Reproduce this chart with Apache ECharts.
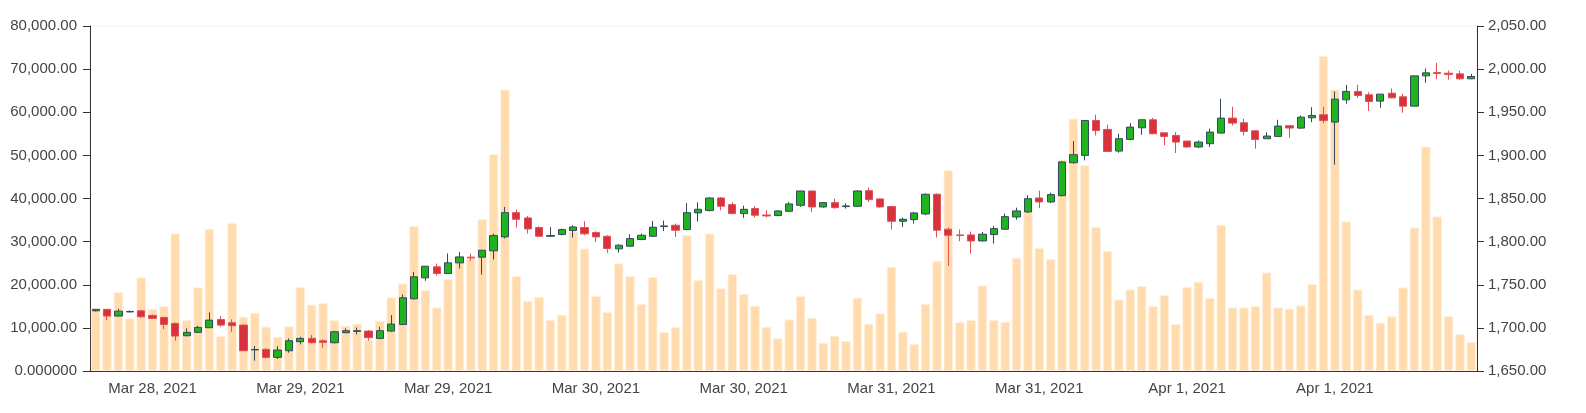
<!DOCTYPE html>
<html>
<head>
<meta charset="utf-8">
<script src="https://cdn.jsdelivr.net/npm/echarts@6/dist/echarts.min.js"></script>
<style>
  html, body { margin: 0; padding: 0; background: #fff; }
  #chart { width: 1586px; height: 413px; }
</style>
</head>
<body>
<div id="chart"></div>
<script>
// hourly candles, one label every 13 bars
const tickLabels = ['Mar 28, 2021', 'Mar 29, 2021', 'Mar 29, 2021', 'Mar 30, 2021', 'Mar 30, 2021',
  'Mar 31, 2021', 'Mar 31, 2021', 'Apr 1, 2021', 'Apr 1, 2021'];

const volumes = [
  14530, 14500, 18300, 12200, 21700, 14400, 15100, 31900, 11800, 19400,
  32900, 8100, 34300, 12600, 13500, 10300, 7950, 10400, 19500, 15400,
  15800, 11800, 10500, 11000, 7200, 11650, 17100, 20300, 33600, 18770,
  14750, 21300, 25870, 26340, 35220, 50280, 65260, 22010, 16220, 17220,
  11820, 13050, 32360, 28420, 17380, 13670, 24950, 22010, 15520, 21780,
  9040, 10190, 31510, 21080, 31900, 19150, 22470, 17840, 15140, 10270,
  7570, 11970, 17380, 12360, 6560, 8190, 6950, 16990, 10970, 13360,
  24170, 9110, 6260, 15520, 25560, 46570, 11350, 11820, 19850, 11820,
  11430, 26260, 36920, 28500, 25950, 49040, 58540, 47730, 33360, 27800,
  16600, 18920, 19690, 15060, 17610, 10890, 19540, 20700, 16910, 33830,
  14750, 14750, 15060, 22860, 14750, 14440, 15210, 20160, 73060, 65260,
  34680, 18920, 12970, 11200, 12670, 19380, 33290, 52050, 35830, 12740,
  8570, 6720
];

const opens = [
  1719.8, 1721.4, 1713.7, 1718.5, 1719.8, 1714.4, 1712.1, 1705.2, 1690.9, 1694.8,
  1700.2, 1709.8, 1705.9, 1703.2, 1674.5, 1675.1, 1665.8, 1673.5, 1684.0, 1687.8,
  1685.1, 1682.8, 1694.4, 1695.9, 1696.3, 1687.8, 1696.3, 1704.0, 1733.7, 1758.0,
  1770.8, 1763.0, 1775.4, 1782.0, 1782.0, 1789.3, 1805.5, 1833.6, 1827.5, 1816.3,
  1806.2, 1808.2, 1812.8, 1816.3, 1810.5, 1806.2, 1791.6, 1794.7, 1802.4, 1806.2,
  1817.4, 1819.0, 1814.0, 1833.3, 1836.0, 1850.6, 1842.9, 1832.5, 1838.3, 1830.9,
  1830.2, 1835.2, 1842.1, 1858.7, 1840.2, 1845.2, 1840.6, 1841.0, 1859.1, 1849.5,
  1840.6, 1823.6, 1825.5, 1832.1, 1854.9, 1814.4, 1807.8, 1807.8, 1800.8, 1808.2,
  1814.4, 1828.6, 1834.4, 1850.6, 1846.0, 1853.3, 1891.5, 1900.0, 1940.5, 1930.1,
  1905.0, 1918.5, 1932.0, 1941.3, 1926.2, 1923.1, 1916.6, 1909.7, 1913.5, 1925.8,
  1943.2, 1937.8, 1928.5, 1919.3, 1922.0, 1934.4, 1931.6, 1943.6, 1947.1, 1938.6,
  1964.4, 1974.1, 1970.2, 1962.9, 1972.1, 1967.9, 1957.1, 1992.2, 1996.0, 1995.3,
  1994.5, 1988.8
];

const closes = [
  1721.4, 1713.7, 1719.4, 1719.0, 1712.9, 1711.0, 1704.0, 1690.5, 1694.8, 1700.5,
  1709.0, 1703.2, 1702.5, 1673.5, 1674.9, 1665.8, 1674.3, 1685.1, 1687.8, 1682.8,
  1683.2, 1695.5, 1696.7, 1696.7, 1688.6, 1696.7, 1704.4, 1734.9, 1759.2, 1771.5,
  1763.0, 1775.4, 1782.3, 1781.2, 1790.0, 1807.0, 1833.6, 1825.9, 1814.7, 1806.2,
  1807.0, 1814.0, 1817.0, 1809.0, 1805.5, 1792.0, 1795.8, 1803.5, 1807.4, 1816.7,
  1818.2, 1813.2, 1833.6, 1837.5, 1850.6, 1841.0, 1832.5, 1837.5, 1830.6, 1829.8,
  1835.6, 1843.7, 1858.7, 1840.2, 1845.2, 1839.4, 1841.4, 1858.7, 1848.7, 1840.2,
  1823.6, 1825.9, 1833.3, 1854.9, 1813.2, 1807.4, 1807.0, 1800.8, 1808.6, 1815.1,
  1829.0, 1835.6, 1849.8, 1846.0, 1854.5, 1892.3, 1900.8, 1940.5, 1928.9, 1904.6,
  1919.3, 1932.8, 1941.3, 1925.1, 1922.0, 1915.4, 1909.7, 1915.4, 1927.0, 1943.2,
  1937.4, 1927.8, 1918.5, 1922.4, 1934.0, 1931.7, 1944.3, 1946.3, 1940.5, 1965.2,
  1974.1, 1969.5, 1962.5, 1971.0, 1966.7, 1957.1, 1992.2, 1995.7, 1994.9, 1993.7,
  1988.8, 1991.5
];

const lows = [
  1719.0, 1709.0, 1713.5, 1718.0, 1711.7, 1710.6, 1698.6, 1685.1, 1690.1, 1694.0,
  1700.0, 1701.3, 1695.5, 1673.0, 1662.0, 1664.7, 1663.9, 1671.2, 1680.9, 1682.0,
  1677.0, 1682.0, 1694.2, 1692.4, 1685.1, 1687.0, 1695.5, 1703.2, 1732.9, 1754.6,
  1760.7, 1763.0, 1768.8, 1777.7, 1761.9, 1779.2, 1803.5, 1816.3, 1809.3, 1805.5,
  1806.0, 1807.4, 1804.7, 1807.4, 1799.7, 1787.0, 1787.3, 1793.9, 1801.6, 1805.5,
  1812.4, 1805.5, 1813.2, 1823.2, 1835.2, 1836.3, 1831.7, 1827.5, 1828.2, 1828.2,
  1829.4, 1834.4, 1840.2, 1834.4, 1839.4, 1838.3, 1838.3, 1840.2, 1846.0, 1839.4,
  1814.0, 1817.0, 1820.9, 1830.6, 1804.7, 1771.9, 1800.5, 1786.2, 1800.1, 1797.8,
  1813.6, 1825.5, 1833.3, 1839.0, 1844.8, 1852.5, 1890.4, 1894.2, 1923.1, 1904.6,
  1903.1, 1917.4, 1923.9, 1924.3, 1911.8, 1902.7, 1909.0, 1908.5, 1909.7, 1925.8,
  1934.7, 1923.1, 1907.7, 1919.3, 1921.2, 1920.5, 1930.9, 1938.6, 1937.4, 1889.2,
  1959.8, 1966.7, 1951.4, 1955.2, 1966.4, 1949.4, 1957.1, 1984.1, 1988.3, 1987.9,
  1987.9, 1988.4
];

const highs = [
  1721.9, 1721.8, 1722.1, 1720.3, 1720.6, 1715.6, 1712.9, 1706.0, 1699.4, 1702.5,
  1717.9, 1713.7, 1709.8, 1704.4, 1678.9, 1676.2, 1678.9, 1687.8, 1689.7, 1691.7,
  1686.7, 1696.7, 1699.4, 1700.5, 1697.5, 1701.3, 1714.8, 1738.7, 1765.0, 1771.5,
  1774.6, 1786.2, 1788.1, 1786.2, 1790.0, 1809.3, 1840.2, 1837.1, 1829.8, 1817.8,
  1817.0, 1815.1, 1819.0, 1823.6, 1812.0, 1807.4, 1797.0, 1808.6, 1809.3, 1824.0,
  1824.4, 1820.9, 1844.8, 1845.6, 1851.4, 1851.8, 1845.6, 1841.7, 1841.0, 1836.3,
  1836.3, 1846.0, 1858.9, 1858.9, 1846.0, 1849.8, 1844.4, 1859.5, 1862.6, 1849.9,
  1841.4, 1827.9, 1834.4, 1856.0, 1856.0, 1816.3, 1814.0, 1811.7, 1811.3, 1818.2,
  1832.5, 1839.4, 1853.7, 1859.1, 1856.8, 1893.4, 1916.6, 1940.5, 1947.1, 1935.5,
  1925.1, 1937.4, 1941.3, 1943.6, 1926.2, 1927.0, 1916.6, 1917.4, 1930.9, 1965.6,
  1956.4, 1942.4, 1928.5, 1926.6, 1941.3, 1934.4, 1946.3, 1955.9, 1956.4, 1974.1,
  1981.8, 1981.8, 1973.3, 1971.0, 1977.5, 1971.4, 1992.2, 2000.7, 2007.2, 1998.4,
  1998.0, 1994.5
];

const categories = volumes.map((v, i) => String(i));
// echarts candlestick order: [open, close, lowest, highest]
const candles = opens.map((o, i) => [o, closes[i], lows[i], highs[i]]);

const fmt2 = (v) => v.toLocaleString('en-US', { minimumFractionDigits: 2, maximumFractionDigits: 2 });

const textStyle = { fontFamily: 'Liberation Sans, Arial, sans-serif', fontSize: 15, color: '#444' };
const axisLineStyle = { lineStyle: { color: '#333', width: 1 } };

const chart = echarts.init(document.getElementById('chart'));

chart.setOption({
  animation: false,
  grid: {
    left: 90, right: 109, top: 26, bottom: 42,
    show: true,
    borderColor: '#fcefe3',
    borderWidth: 1,
    backgroundColor: 'transparent'
  },
  xAxis: {
    type: 'category',
    data: categories,
    boundaryGap: true,
    axisLine: axisLineStyle,
    axisTick: {
      length: 7,
      lineStyle: { color: '#333' },
      interval: (index) => index % 13 === 12
    },
    axisLabel: {
      ...textStyle,
      margin: 10,
      interval: (index) => index % 13 === 5,
      formatter: (value, index) => tickLabels[(index - 5) / 13] || ''
    },
    splitLine: { show: false }
  },
  yAxis: [
    {
      type: 'value',
      position: 'left',
      min: 0,
      max: 80000,
      interval: 10000,
      axisLine: { show: true, ...axisLineStyle },
      axisTick: { show: true, length: 7, lineStyle: { color: '#333' } },
      axisLabel: {
        ...textStyle,
        margin: 13,
        formatter: (v) => (v === 0 ? '0.000000' : fmt2(v))
      },
      splitLine: { show: false }
    },
    {
      type: 'value',
      position: 'right',
      min: 1650,
      max: 2050,
      interval: 50,
      axisLine: { show: true, ...axisLineStyle },
      axisTick: { show: true, length: 7, lineStyle: { color: '#333' } },
      axisLabel: {
        ...textStyle,
        margin: 11,
        formatter: (v) => fmt2(v)
      },
      splitLine: { show: false }
    }
  ],
  series: [
    {
      name: 'Volume',
      type: 'bar',
      yAxisIndex: 0,
      data: volumes,
      barCategoryGap: '16%',
      itemStyle: {
        color: '#ffdbad',
        borderColor: '#fff0dc',
        borderWidth: 1
      }
    },
    {
      name: 'Price',
      type: 'candlestick',
      yAxisIndex: 1,
      data: candles,
      barWidth: '68%',
      itemStyle: {
        color: '#1fb31f',
        color0: '#d8333c',
        borderColor: '#35495d',
        borderColor0: '#df4f57',
        borderWidth: 1
      }
    }
  ]
});
</script>
</body>
</html>
